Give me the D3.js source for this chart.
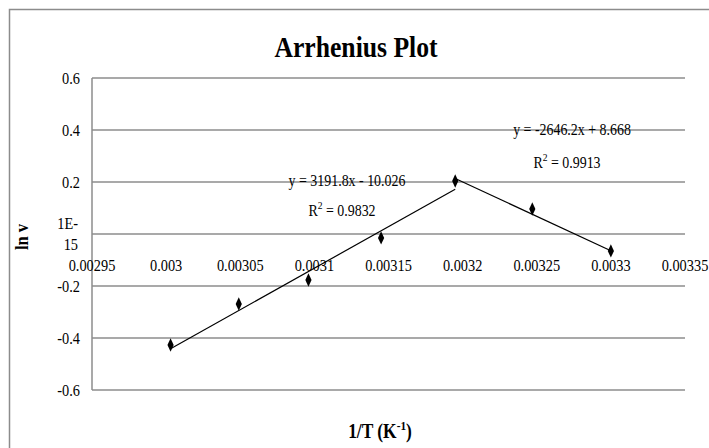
<!DOCTYPE html>
<html>
<head>
<meta charset="utf-8">
<script src="https://cdn.jsdelivr.net/npm/d3@7"></script>
<style>
  body { margin: 0; background: #fff; }
  text { font-family: "Liberation Serif", "Times New Roman", serif; fill: #000; }
</style>
</head>
<body>
<svg id="chart" width="709" height="448"></svg>
<script>
// Reciprocal temperature (1/K) and natural log of rate
const invT = [0.003003, 0.003049, 0.003096, 0.003145, 0.003195, 0.003247, 0.003300];
const lnV  = [-0.427, -0.269, -0.177, -0.015, 0.204, 0.096, -0.065];

// Axis ticks and their printed labels
const xTicks = [0.00295, 0.003, 0.00305, 0.0031, 0.00315, 0.0032, 0.00325, 0.0033, 0.00335];
const xTickLabels = ["0.00295", "0.003", "0.00305", "0.0031", "0.00315", "0.0032", "0.00325", "0.0033", "0.00335"];
const yTicks = [-0.6, -0.4, -0.2, 0, 0.2, 0.4, 0.6];
const yTickLabels = ["-0.6", "-0.4", "-0.2", "1E-\n15", "0.2", "0.4", "0.6"];

// Linear trendlines: rising segment (points 0..4) and falling segment (points 4..6)
const trendSlopes = [3191.8, -2646.2];
const trendIntercepts = [-10.026, 8.668];
const trendR2 = ["0.9832", "0.9913"];
const trendFrom = [0, 4];
const trendTo = [4, 6];

const svg = d3.select("#chart");
const W = 709, H = 448;
const SX = 0.87; // narrow set of the serif face

// text placed at (px,py), squeezed horizontally
function label(parent, px, py, size, anchor) {
  return parent.append("text")
    .attr("transform", `translate(${px},${py}) scale(${SX},1)`)
    .attr("text-anchor", anchor || "middle")
    .attr("font-size", size);
}

// outer chart frame (runs past the right and bottom edges)
svg.append("path")
  .attr("d", `M9.5,${H + 5} L9.5,9.5 L${W + 5},9.5`)
  .attr("fill", "none").attr("stroke", "#8c8c8c").attr("stroke-width", 1.5);

const x = d3.scaleLinear().domain([0.00295, 0.00335]).range([92, 685]);
const y = d3.scaleLinear().domain([-0.6, 0.6]).range([390, 78]);

// horizontal gridlines
svg.append("g").selectAll("line").data(yTicks).join("line")
  .attr("x1", x(0.00295)).attr("x2", x(0.00335))
  .attr("y1", d => y(d)).attr("y2", d => y(d))
  .attr("stroke", "#8c8c8c").attr("stroke-width", 1.5);

// vertical value axis at the left edge
svg.append("line")
  .attr("x1", x(0.00295)).attr("x2", x(0.00295))
  .attr("y1", y(0.6)).attr("y2", y(-0.6))
  .attr("stroke", "#8c8c8c").attr("stroke-width", 1.5);

// y tick labels
yTicks.forEach((d, i) => {
  const lines = yTickLabels[i].split("\n");
  if (lines.length === 1) {
    label(svg, 80, y(d) + 5.5, 16.5, "end").text(lines[0]);
  } else {
    lines.forEach((s, k) => {
      label(svg, 78, y(d) + (k - (lines.length - 1) / 2) * 21 + 5.5, 16.5, "end").text(s);
    });
  }
});

// x tick labels, set below the zero line
xTicks.forEach((d, i) => {
  label(svg, x(d), y(0) + 37, 16.5).text(xTickLabels[i]);
});

// trendlines
trendSlopes.forEach((m, i) => {
  const x0 = invT[trendFrom[i]], x1 = invT[trendTo[i]];
  svg.append("line")
    .attr("x1", x(x0)).attr("y1", y(m * x0 + trendIntercepts[i]))
    .attr("x2", x(x1)).attr("y2", y(m * x1 + trendIntercepts[i]))
    .attr("stroke", "#000").attr("stroke-width", 1.2);
});

// diamond markers
const diamond = d3.symbol().type(d3.symbolDiamond).size(52);
svg.append("g").selectAll("path").data(invT).join("path")
  .attr("d", diamond)
  .attr("transform", (d, i) => `translate(${x(d)},${y(lnV[i])}) scale(0.8,1)`)
  .attr("fill", "#000");

// trendline equations
const eqPos = [[347, 186, 342, 216], [572, 135, 567, 168]];
trendSlopes.forEach((m, i) => {
  const b = trendIntercepts[i];
  const eq = `y = ${m}x ${b < 0 ? "-" : "+"} ${Math.abs(b)}`;
  label(svg, eqPos[i][0], eqPos[i][1], 16).text(eq);
  const r = label(svg, eqPos[i][2], eqPos[i][3], 16);
  r.append("tspan").text("R");
  r.append("tspan").attr("font-size", 11).attr("dy", -7).text("2");
  r.append("tspan").attr("dy", 7).text(` = ${trendR2[i]}`);
});

// title
label(svg, 356, 57, 29.5).attr("font-weight", "bold").text("Arrhenius Plot");

// y axis title
svg.append("text")
  .attr("transform", `translate(28,${y(0) + 3}) rotate(-90) scale(${SX},1)`)
  .attr("text-anchor", "middle").attr("font-size", 19).attr("font-weight", "bold")
  .text("ln v");

// x axis title
const xt = label(svg, 380, 438, 20).attr("font-weight", "bold");
xt.append("tspan").text("1/T (K");
xt.append("tspan").attr("font-size", 13).attr("dy", -8).text("-1");
xt.append("tspan").attr("dy", 8).text(")");
</script>
</body>
</html>
